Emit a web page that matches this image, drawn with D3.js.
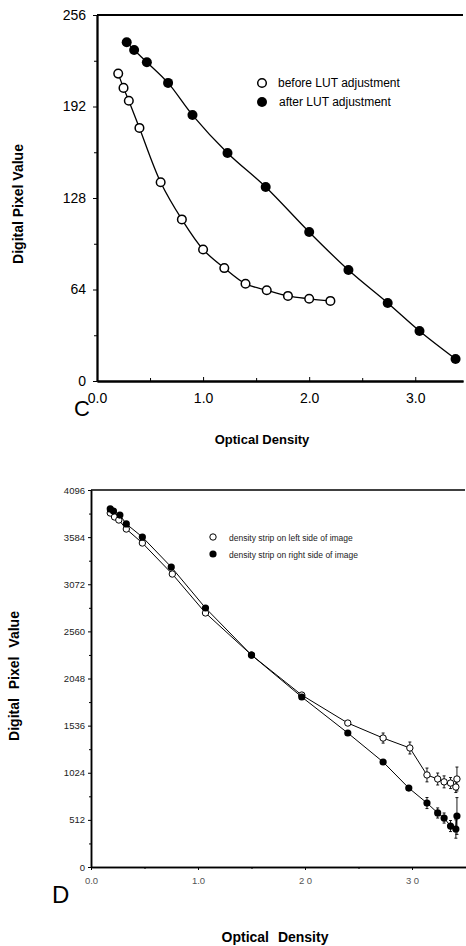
<!DOCTYPE html>
<html>
<head>
<meta charset="utf-8">
<script src="https://cdn.jsdelivr.net/npm/d3@7"></script>
<style>
  html, body { margin: 0; padding: 0; background: #fff; }
  svg { display: block; font-family: "Liberation Sans", Arial, sans-serif; }
</style>
</head>
<body>
<svg id="fig" width="466" height="946"></svg>
<script>
// panel C: 8-bit values
const beforeX = [0.2, 0.25, 0.3, 0.4, 0.6, 0.8, 1.0, 1.2, 1.4, 1.6, 1.8, 2.0, 2.2];
const beforeY = [215, 205, 196, 177, 139, 113, 92, 79, 68, 63.5, 59.5, 57.5, 56];
const afterX = [0.28, 0.35, 0.47, 0.67, 0.9, 1.23, 1.59, 2.0, 2.37, 2.74, 3.04, 3.38];
const afterY = [237, 231.5, 223, 208.5, 186, 159.5, 135.7, 104.2, 77.6, 54.6, 35, 15.4];
const cYTicks = [0, 64, 128, 192, 256];
const cXTicks = [0, 1, 2, 3];

// panel D: 12-bit values with error bars
const leftX = [0.18, 0.22, 0.26, 0.33, 0.48, 0.76, 1.07, 1.5, 1.97, 2.4, 2.73, 2.98, 3.14, 3.24, 3.3, 3.36, 3.41, 3.42];
const leftY = [3846, 3803, 3770, 3672, 3520, 3183, 2760, 2303, 1868, 1564, 1401, 1293, 1000, 956, 925, 912, 869, 956];
const leftErr = [0, 0, 0, 0, 0, 0, 0, 0, 0, 0, 55, 65, 75, 65, 65, 60, 60, 130];
const rightX = [0.18, 0.21, 0.27, 0.33, 0.48, 0.75, 1.07, 1.5, 1.97, 2.4, 2.73, 2.97, 3.14, 3.24, 3.3, 3.36, 3.41, 3.42];
const rightY = [3890, 3868, 3824, 3727, 3585, 3259, 2814, 2303, 1847, 1456, 1141, 858, 695, 587, 532, 445, 413, 554];
const rightErr = [0, 0, 0, 0, 0, 0, 0, 0, 0, 0, 0, 0, 60, 55, 55, 60, 100, 200];
const dYTicks = [0, 512, 1024, 1536, 2048, 2560, 3072, 3584, 4096];
const dXTicks = [0, 1, 2, 3];
const dXLabels = ['0.0', '1.0', '2 0', '3 0'];

const svg = d3.select('#fig');
const zip = (xs, ys, es) => xs.map((x, i) => ({ x: x, y: ys[i], e: es ? es[i] : 0 }));

// ---------- panel C ----------
const cx = d3.scaleLinear().domain([0, 3.45]).range([97, 463]);
const cy = d3.scaleLinear().domain([0, 256]).range([381, 15]);
const gC = svg.append('g');

gC.append('g')
    .attr('transform', 'translate(97,0)')
    .call(d3.axisLeft(cy).tickValues(d3.range(32, 256, 64)).tickFormat('').tickSize(3).tickSizeOuter(0));
gC.append('g')
    .attr('transform', 'translate(97,0)')
    .call(d3.axisLeft(cy).tickValues(cYTicks).tickFormat(d3.format('d')).tickSize(4).tickPadding(7).tickSizeOuter(0))
    .call(g => g.selectAll('text').attr('font-size', 14));
gC.append('g')
    .attr('transform', 'translate(0,381)')
    .call(d3.axisBottom(cx).tickValues(d3.range(0.5, 3.5, 1)).tickFormat('').tickSize(-3).tickSizeOuter(0));
gC.append('g')
    .attr('transform', 'translate(0,381)')
    .call(d3.axisBottom(cx).tickValues(cXTicks).tickFormat(d3.format('.1f')).tickSize(-4).tickPadding(12).tickSizeOuter(0))
    .call(g => g.selectAll('text').attr('font-size', 14));
gC.selectAll('.domain').attr('stroke-width', 1.8);
gC.append('line').attr('x1', 97).attr('x2', 463).attr('y1', 15).attr('y2', 15)
    .attr('stroke', '#000').attr('stroke-width', 1.8);

const cLine = d3.line().x(d => cx(d.x)).y(d => cy(d.y)).curve(d3.curveCatmullRom);
const before = zip(beforeX, beforeY);
const after = zip(afterX, afterY);
gC.append('path').attr('d', cLine(before)).attr('fill', 'none').attr('stroke', '#000').attr('stroke-width', 1.3);
gC.append('path').attr('d', cLine(after)).attr('fill', 'none').attr('stroke', '#000').attr('stroke-width', 1.3);
gC.selectAll('.bc').data(before).join('circle')
    .attr('cx', d => cx(d.x)).attr('cy', d => cy(d.y)).attr('r', 4.3)
    .attr('fill', '#fff').attr('stroke', '#000').attr('stroke-width', 1.5);
gC.selectAll('.ac').data(after).join('circle')
    .attr('cx', d => cx(d.x)).attr('cy', d => cy(d.y)).attr('r', 5)
    .attr('fill', '#000');

gC.append('circle').attr('cx', 262).attr('cy', 83).attr('r', 4.3).attr('fill', '#fff').attr('stroke', '#000').attr('stroke-width', 1.5);
gC.append('circle').attr('cx', 262).attr('cy', 102).attr('r', 5).attr('fill', '#000');
gC.append('text').attr('x', 278).attr('y', 87).attr('font-size', 12).text('before LUT adjustment');
gC.append('text').attr('x', 279).attr('y', 106).attr('font-size', 12).text('after LUT adjustment');

gC.append('text').attr('transform', 'translate(23,204) rotate(-90)').attr('text-anchor', 'middle')
    .attr('font-size', 14).attr('font-weight', 'bold').text('Digital Pixel Value');
gC.append('text').attr('x', 262).attr('y', 444).attr('text-anchor', 'middle')
    .attr('font-size', 13).attr('font-weight', 'bold').text('Optical Density');
gC.append('text').attr('x', 74).attr('y', 416).attr('font-size', 22).text('C');

// ---------- panel D ----------
const dx = d3.scaleLinear().domain([0, 3.5]).range([91, 465.5]);
const dy = d3.scaleLinear().domain([0, 4096]).range([867, 490]);
const gD = svg.append('g');

gD.append('g')
    .attr('transform', 'translate(91,0)')
    .call(d3.axisLeft(dy).tickValues(d3.range(256, 4096, 512)).tickFormat('').tickSize(2).tickSizeOuter(0));
gD.append('g')
    .attr('transform', 'translate(91,0)')
    .call(d3.axisLeft(dy).tickValues(dYTicks).tickFormat(d3.format('d')).tickSize(3).tickPadding(3).tickSizeOuter(0))
    .call(g => g.selectAll('text').attr('font-size', 9.5).attr('fill', '#222'));
gD.append('g')
    .attr('transform', 'translate(0,867)')
    .call(d3.axisBottom(dx).tickValues(d3.range(0.5, 3.5, 1)).tickFormat('').tickSize(2).tickSizeOuter(0));
gD.append('g')
    .attr('transform', 'translate(0,867)')
    .call(d3.axisBottom(dx).tickValues(dXTicks).tickFormat((d, i) => dXLabels[i]).tickSize(3).tickPadding(7).tickSizeOuter(0))
    .call(g => g.selectAll('text').attr('font-size', 9.5).attr('fill', '#555'));
gD.selectAll('.domain').attr('stroke-width', 1.5);
gD.append('line').attr('x1', 91).attr('x2', 465).attr('y1', 490).attr('y2', 490)
    .attr('stroke', '#000').attr('stroke-width', 1.5);

const dLine = d3.line().x(d => dx(d.x)).y(d => dy(d.y));
const left = zip(leftX, leftY, leftErr);
const right = zip(rightX, rightY, rightErr);
[left, right].forEach(s => {
    gD.append('path').attr('d', dLine(s)).attr('fill', 'none').attr('stroke', '#000').attr('stroke-width', 1);
    const eb = s.filter(d => d.e > 0);
    gD.append('g').selectAll('line').data(eb).join('line')
        .attr('x1', d => dx(d.x)).attr('x2', d => dx(d.x))
        .attr('y1', d => dy(d.y - d.e)).attr('y2', d => dy(d.y + d.e))
        .attr('stroke', '#000').attr('stroke-width', 0.9);
    [1, -1].forEach(sg => {
        gD.append('g').selectAll('line').data(eb).join('line')
            .attr('x1', d => dx(d.x) - 1.5).attr('x2', d => dx(d.x) + 1.5)
            .attr('y1', d => dy(d.y + sg * d.e)).attr('y2', d => dy(d.y + sg * d.e))
            .attr('stroke', '#000').attr('stroke-width', 0.9);
    });
});
gD.append('g').selectAll('circle').data(left).join('circle')
    .attr('cx', d => dx(d.x)).attr('cy', d => dy(d.y)).attr('r', 3.2)
    .attr('fill', '#fff').attr('stroke', '#000').attr('stroke-width', 1);
gD.append('g').selectAll('circle').data(right).join('circle')
    .attr('cx', d => dx(d.x)).attr('cy', d => dy(d.y)).attr('r', 3.6)
    .attr('fill', '#000');

gD.append('circle').attr('cx', 213).attr('cy', 537).attr('r', 3.2).attr('fill', '#fff').attr('stroke', '#000').attr('stroke-width', 1);
gD.append('circle').attr('cx', 213).attr('cy', 554).attr('r', 3.6).attr('fill', '#000');
gD.append('text').attr('x', 229).attr('y', 541).attr('font-size', 8.5).attr('fill', '#222').text('density strip on left side of image');
gD.append('text').attr('x', 229).attr('y', 558).attr('font-size', 8.5).attr('fill', '#222').text('density strip on right side of image');

gD.append('text').attr('transform', 'translate(19,676) rotate(-90)').attr('text-anchor', 'middle')
    .attr('font-size', 14).attr('font-weight', 'bold').attr('word-spacing', 5).text('Digital Pixel Value');
gD.append('text').attr('x', 275).attr('y', 942).attr('text-anchor', 'middle')
    .attr('font-size', 14).attr('font-weight', 'bold').attr('word-spacing', 5).text('Optical Density');
gD.append('text').attr('x', 52).attr('y', 903).attr('font-size', 24).text('D');
</script>
</body>
</html>
